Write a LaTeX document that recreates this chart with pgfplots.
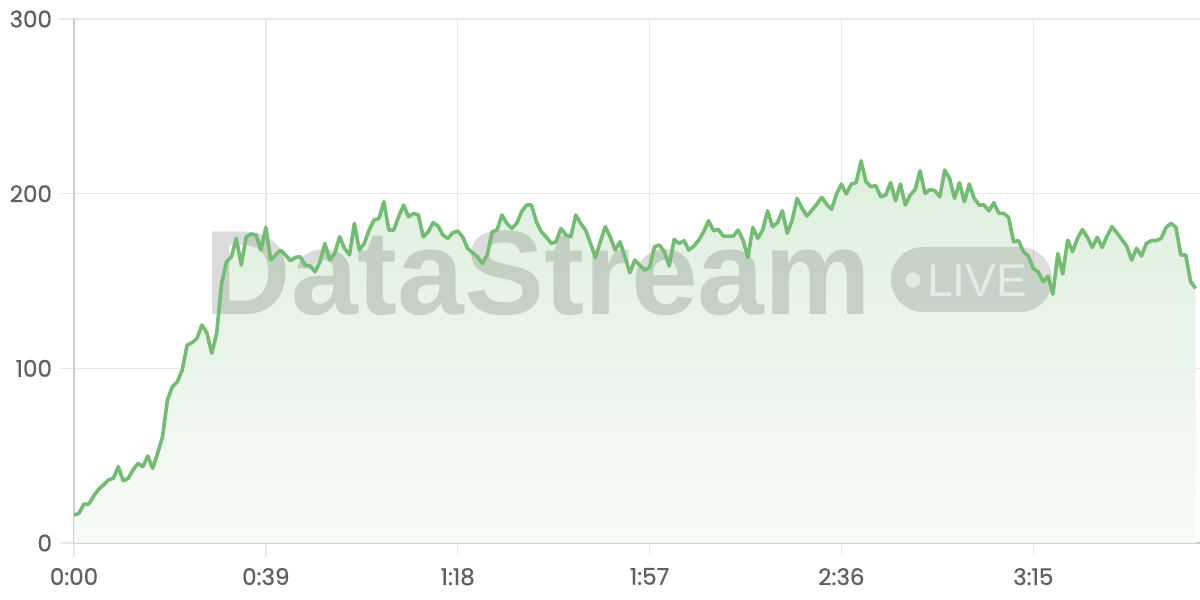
\documentclass[border=0pt]{standalone}
\usepackage{fontspec}
\setmainfont{Poppins}
\newfontfamily\tickfont{Poppins}[FakeBold=0.7]
\newfontfamily\wmfont{Liberation Sans}
\usepackage{pgfplots}
\usepackage{pgfplotstable}
\pgfplotsset{compat=1.18}
\definecolor{lineG}{RGB}{116,187,116}
\definecolor{fillTop}{RGB}{221,239,221}
\definecolor{fillBot}{RGB}{247,251,247}
\definecolor{gridC}{RGB}{232,232,232}
\definecolor{axisC}{RGB}{205,205,205}
\definecolor{labC}{RGB}{96,96,96}
\pgfplotstableread{
t v
0 16.0
1 17.0
2 22.3
3 22.3
4 26.9
5 30.7
6 33.2
7 36.1
8 37.0
9 43.7
10 35.7
11 37.0
12 41.8
13 45.6
14 43.7
15 49.8
16 42.7
17 51.3
18 60.9
19 81.9
20 89.5
21 92.3
22 99.0
23 113.3
24 114.7
25 117.1
26 124.8
27 120.4
28 108.6
29 120.0
30 148.6
31 161.0
32 163.9
33 174.4
34 159.1
35 175.3
36 176.9
37 176.4
38 167.7
39 180.7
40 162.0
41 164.9
42 167.7
43 164.9
44 161.6
45 163.5
46 163.9
47 159.1
48 158.6
49 155.3
50 161.0
51 171.5
52 162.0
53 165.8
54 175.3
55 168.7
56 164.9
57 183.0
58 167.7
59 171.5
60 179.2
61 184.9
62 185.8
63 195.4
64 179.2
65 179.2
66 186.8
67 193.5
68 186.8
69 188.7
70 187.8
71 175.3
72 178.2
73 183.4
74 181.5
75 176.3
76 174.4
77 177.6
78 178.6
79 175.3
80 168.7
81 166.2
82 163.9
83 160.1
84 164.9
85 178.2
86 179.2
87 187.8
88 183.0
89 180.1
90 183.0
91 189.7
92 193.5
93 193.5
94 183.9
95 178.2
96 175.3
97 171.5
98 172.5
99 180.1
100 176.3
101 175.3
102 187.8
103 183.0
104 179.2
105 171.5
106 163.5
107 172.5
108 181.1
109 175.3
110 167.7
111 172.5
112 163.9
113 154.7
114 162.0
115 159.1
116 156.3
117 157.8
118 169.6
119 170.6
120 166.8
121 158.6
122 173.8
123 171.5
124 173.1
125 167.7
126 170.0
127 173.4
128 178.2
129 184.5
130 178.8
131 179.5
132 175.7
133 175.7
134 175.7
135 179.2
136 173.4
137 163.5
138 180.7
139 174.4
140 179.2
141 190.2
142 181.1
143 183.4
144 190.2
145 177.3
146 184.9
147 197.3
148 191.6
149 187.2
150 190.6
151 194.0
152 197.9
153 194.0
154 191.0
155 199.8
156 205.5
157 199.8
158 205.5
159 206.3
160 218.8
161 206.8
162 204.0
163 204.6
164 198.2
165 199.2
166 206.3
167 196.0
168 205.5
169 193.5
170 199.2
171 202.4
172 213.1
173 200.1
174 202.4
175 201.7
176 198.2
177 213.5
178 208.7
179 197.3
180 206.3
181 195.4
182 205.5
183 197.3
184 193.5
185 193.5
186 190.2
187 194.8
188 188.7
189 188.7
190 186.4
191 172.5
192 173.1
193 166.8
194 164.3
195 157.2
196 155.3
197 149.6
198 152.8
199 142.5
200 165.8
201 154.0
202 173.4
203 166.8
204 174.4
205 179.5
206 175.0
207 169.2
208 175.0
209 169.2
210 175.7
211 181.1
212 177.6
213 173.8
214 170.0
215 162.0
216 168.7
217 164.3
218 171.5
219 173.1
220 173.1
221 174.4
222 180.7
223 183.0
224 180.7
225 164.9
226 164.9
227 149.6
228 145.8
}\datatable
\begin{document}
\begin{tikzpicture}
\begin{axis}[
  at={(0,0)}, anchor=south west,
  scale only axis,
  width=563pt, height=262pt,
  xmin=0, xmax=228.9, ymin=0, ymax=300,
  axis x line*=bottom, axis y line*=left,
  axis line style={axisC, line width=0.8pt, -},
  xtick={0,39,78,117,156,195},
  xticklabels={0:00,0:39,1:18,1:57,2:36,3:15},
  ytick={0,100,200,300},
  yticklabels={0,100,200,300},
  grid=major,
  major grid style={gridC, line width=0.7pt},
  tick align=outside,
  major tick length=7pt,
  tick style={gridC, line width=0.7pt},
  tick label style={font=\tickfont\fontsize{11.5}{13}\selectfont, text=labC},
  /pgf/number format/assume math mode=true,
  xticklabel style={yshift=-2pt},
  yticklabel style={xshift=-0.5pt},
]
\addplot[draw=none, top color=fillTop, bottom color=fillBot] table[x=t,y=v] {\datatable} \closedcycle;
\node[anchor=base west, inner sep=0pt, text=black, text opacity=0.14, font=\wmfont\bfseries\fontsize{60}{60}\selectfont]
  at ([xshift=65pt,yshift=114pt]rel axis cs:0,0) {DataStream};
\fill[black, opacity=0.13, rounded corners=16pt]
  ([xshift=408.5pt,yshift=115.5pt]rel axis cs:0,0) rectangle ([xshift=489pt,yshift=148pt]rel axis cs:0,0);
\fill[white, opacity=0.5] ([xshift=419.5pt,yshift=131.5pt]rel axis cs:0,0) circle (3.8pt);
\node[anchor=base west, inner sep=0pt, text=white, text opacity=0.55, font=\wmfont\fontsize{23}{23}\selectfont]
  at ([xshift=426.5pt,yshift=123pt]rel axis cs:0,0) {LIVE};
\addplot[lineG, line width=1.8pt, line join=round] table[x=t,y=v] {\datatable};
\end{axis}
\pgfresetboundingbox
\path[use as bounding box] (-37pt,-28.5pt) rectangle (563pt,271.5pt);
\end{tikzpicture}
\end{document}
